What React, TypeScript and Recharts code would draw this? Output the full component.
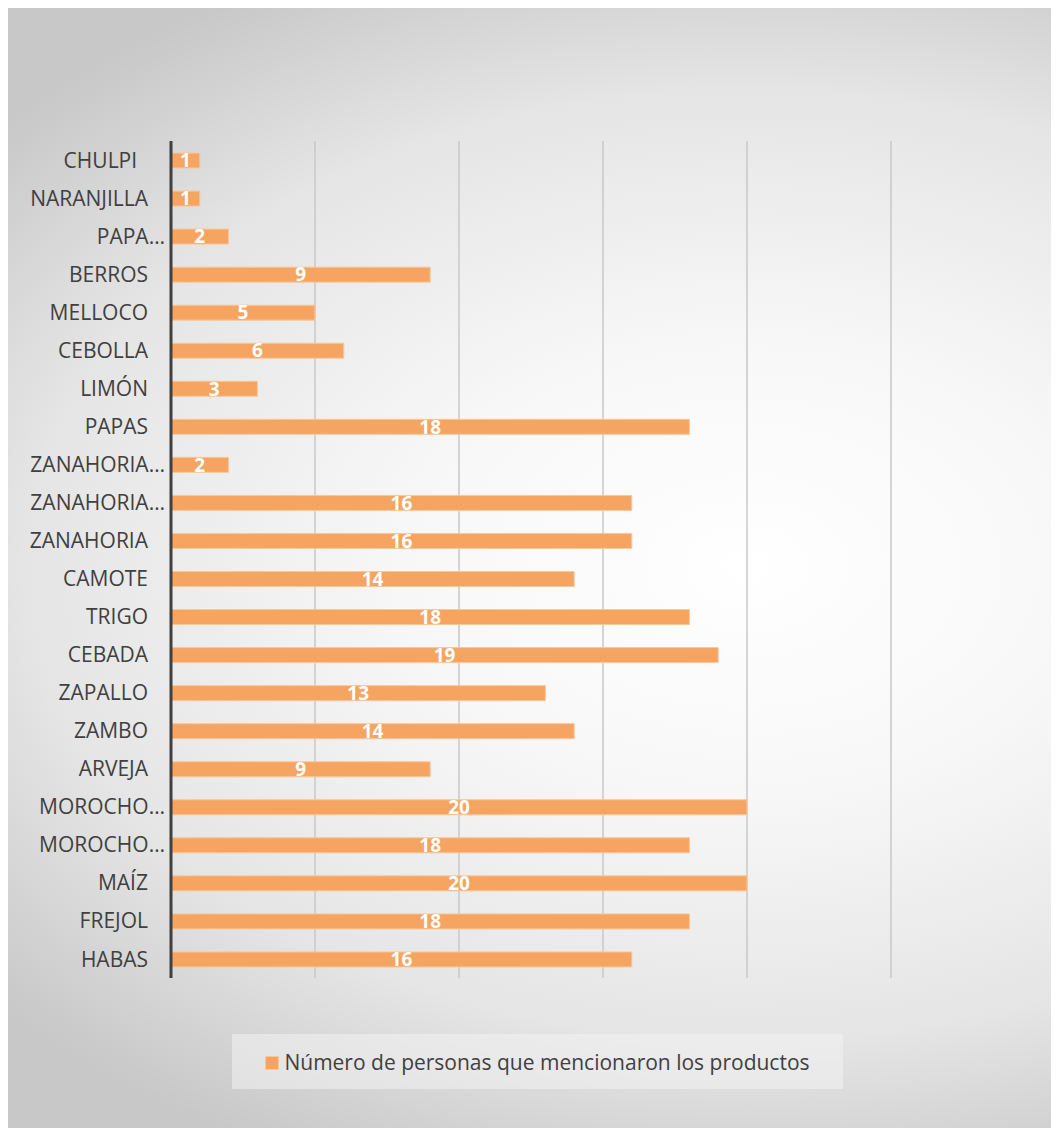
import React from "react";
import { BarChart, Bar, XAxis, YAxis, CartesianGrid, LabelList, Legend } from "recharts";

const categories = [
  "CHULPI  ",
  "NARANJILLA",
  "PAPA…",
  "BERROS",
  "MELLOCO",
  "CEBOLLA",
  "LIMÓN",
  "PAPAS",
  "ZANAHORIA…",
  "ZANAHORIA… ",
  "ZANAHORIA",
  "CAMOTE",
  "TRIGO",
  "CEBADA",
  "ZAPALLO",
  "ZAMBO",
  "ARVEJA",
  "MOROCHO…",
  "MOROCHO… ",
  "MAÍZ",
  "FREJOL",
  "HABAS",
];

const values = [1, 1, 2, 9, 5, 6, 3, 18, 2, 16, 16, 14, 18, 19, 13, 14, 9, 20, 18, 20, 18, 16];

const xTicks = [0, 5, 10, 15, 20, 25];

const seriesName = "Número de personas que mencionaron los productos";

const data = categories.map((name, i) => ({ name, value: values[i] }));

const FONT = "'Open Sans', 'Noto Sans', sans-serif";
const BAR_FILL = "#F5A561";
const BAR_STROKE = "#F9C79A";

const YTick = (props: any) => {
  const { y, payload } = props;
  const label: string = String(payload.value);
  const truncated = label.trim().endsWith("…");
  const xEnd = truncated ? 158 : 141;
  return (
    <text
      x={xEnd}
      y={y}
      dy="0.36em"
      textAnchor="end"
      fill="#404040"
      fontSize={21}
      fontFamily={FONT}
      style={{ whiteSpace: "pre" }}
    >
      {truncated ? label.trim() : label}
    </text>
  );
};

const LegendContent = () => (
  <div
    style={{
      width: "100%",
      height: "100%",
      background: "rgba(242,242,242,0.55)",
      display: "flex",
      alignItems: "center",
      justifyContent: "center",
      fontFamily: FONT,
      fontSize: 21,
      color: "#404040",
      boxSizing: "border-box",
    }}
  >
    <span
      style={{
        display: "inline-block",
        width: 12,
        height: 12,
        background: BAR_FILL,
        border: `1px solid ${BAR_STROKE}`,
        marginRight: 5,
        marginTop: 2,
      }}
    />
    <span>{seriesName}</span>
  </div>
);

export default function App() {
  return (
    <div
      style={{
        width: 1045,
        height: 1122,
        marginLeft: -1,
        marginTop: -2,
        background:
          "radial-gradient(ellipse 1000px 660px at 740px 560px, #ffffff 0%, #f7f7f7 35%, #e5e5e5 72%, #d2d2d2 90%, #c8c8c8 100%)",
      }}
    >
      <BarChart
        width={1045}
        height={1122}
        data={data}
        layout="vertical"
        margin={{ top: 135, right: 161, bottom: 150, left: 0 }}
        barCategoryGap={0}
      >
        <CartesianGrid horizontal={false} vertical={true} stroke="#c9c9c9" strokeWidth={1.5} />
        <XAxis type="number" domain={[0, 25]} ticks={xTicks} hide />
        <YAxis
          type="category"
          dataKey="name"
          width={164}
          interval={0}
          tickLine={false}
          axisLine={{ stroke: "#404040", strokeWidth: 3 }}
          tick={<YTick />}
        />
        <Legend
          layout="horizontal"
          align="center"
          verticalAlign="middle"
          content={<LegendContent />}
          wrapperStyle={{ left: 225, top: 1028, width: 611, height: 55 }}
        />
        <Bar
          dataKey="value"
          name={seriesName}
          fill={BAR_FILL}
          stroke={BAR_STROKE}
          strokeWidth={1}
          barSize={15}
          isAnimationActive={false}
        >
          <LabelList
            dataKey="value"
            position="center"
            fill="#ffffff"
            fontSize={19}
            fontWeight="bold"
            fontFamily={FONT}
          />
        </Bar>
      </BarChart>
    </div>
  );
}
